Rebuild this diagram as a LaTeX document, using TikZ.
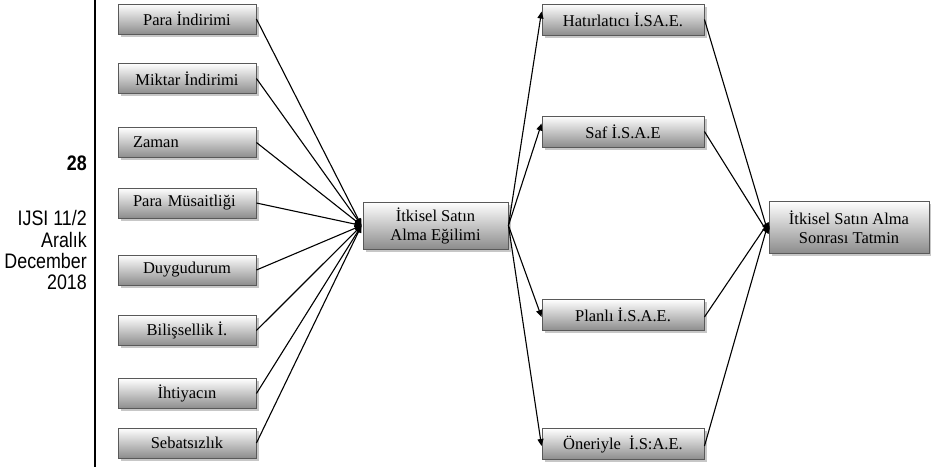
\documentclass[tikz,border=0pt]{standalone}
\usepackage{fontspec}
\setmainfont{Liberation Serif}
\newfontfamily\sidefont[FakeStretch=0.85]{Liberation Sans}
\usetikzlibrary{shadows,arrows.meta}
\begin{document}
\begin{tikzpicture}[x=1pt,y=-1pt,
  box/.style={draw=black!65, line width=0.9pt, top color=white, bottom color=black!45,
    drop shadow={shadow xshift=2.5pt,shadow yshift=-2.5pt,fill=black!22,opacity=1},
    font=\fontsize{16.5}{19}\selectfont, inner sep=2pt},
  lbox/.style={box, minimum width=138pt, minimum height=30pt},
  rbox/.style={box, minimum width=162pt, minimum height=31pt},
  conn/.style={line width=1.1pt},
  arr/.style={conn, -{Triangle[length=7pt,width=6pt]}},
  side/.style={font=\sidefont\fontsize{21}{23}\selectfont, anchor=east, inner sep=0pt}]
\useasboundingbox (0,0) rectangle (931,467);
\draw[line width=1.3pt] (95,0) -- (95,467);
\node[side, font=\sidefont\fontsize{21}{23}\selectfont] (pg) at (87,163) {\textbf{28}};
\node[side] (s1) at (87,218) {IJSI 11/2};
\node[side] (s2) at (87,240) {Aralık};
\node[side] (s3) at (87,261) {December};
\node[side] (s4) at (87,282) {2018};

\node[lbox] (l1) at (187,19) {Para İndirimi};
\node[lbox] (l2) at (187,78.5) {Miktar İndirimi};
\node[lbox, text width=108pt, align=left] (l3) at (187,142.5) {Zaman};
\node[lbox, text width=108pt, align=left] (l4) at (187,203) {Para Müsaitliği};
\node[lbox] (l5) at (187,270) {Duygudurum};
\node[lbox] (l6) at (187,330.5) {Bilişsellik İ.};
\node[lbox] (l7) at (187,393.5) {İhtiyacın};
\node[lbox] (l8) at (187,443) {Sebatsızlık};

\node[box, minimum width=145pt, minimum height=47pt, align=center] (c) at (435.5,225.5) {İtkisel Satın\\Alma Eğilimi};

\node[rbox] (r1) at (623,19.5) {Hatırlatıcı İ.SA.E.};
\node[rbox] (r2) at (623,131.5) {Saf İ.S.A.E};
\node[rbox] (r3) at (623,315) {Planlı İ.S.A.E.};
\node[rbox] (r4) at (623,444) {Öneriyle\ \ İ.S:A.E.};

\node[box, minimum width=160pt, minimum height=52pt, align=center] (f) at (849,227) {İtkisel Satın Alma\\Sonrası Tatmin};

\coordinate (cin) at ([xshift=-1pt]c.west);
\foreach \i in {1,...,8} \draw[arr] (l\i.east) -- (cin);

\draw[arr] (c.east) -- ([yshift=8pt]r1.west);
\draw[arr] (c.east) -- ([yshift=8pt]r2.west);
\draw[arr] (c.east) -- ([yshift=-2pt]r3.west);
\draw[arr] (c.east) -- ([yshift=-2pt]r4.west);

\coordinate (fa) at ([yshift=-7pt]f.west);
\coordinate (fb) at ([yshift=5pt]f.west);
\draw[arr] (r1.east) -- (fa);
\draw[arr] (r2.east) -- (fa);
\draw[arr] ([yshift=-2pt]r3.east) -- (fb);
\draw[arr] ([yshift=-2pt]r4.east) -- (fb);
\end{tikzpicture}
\end{document}
